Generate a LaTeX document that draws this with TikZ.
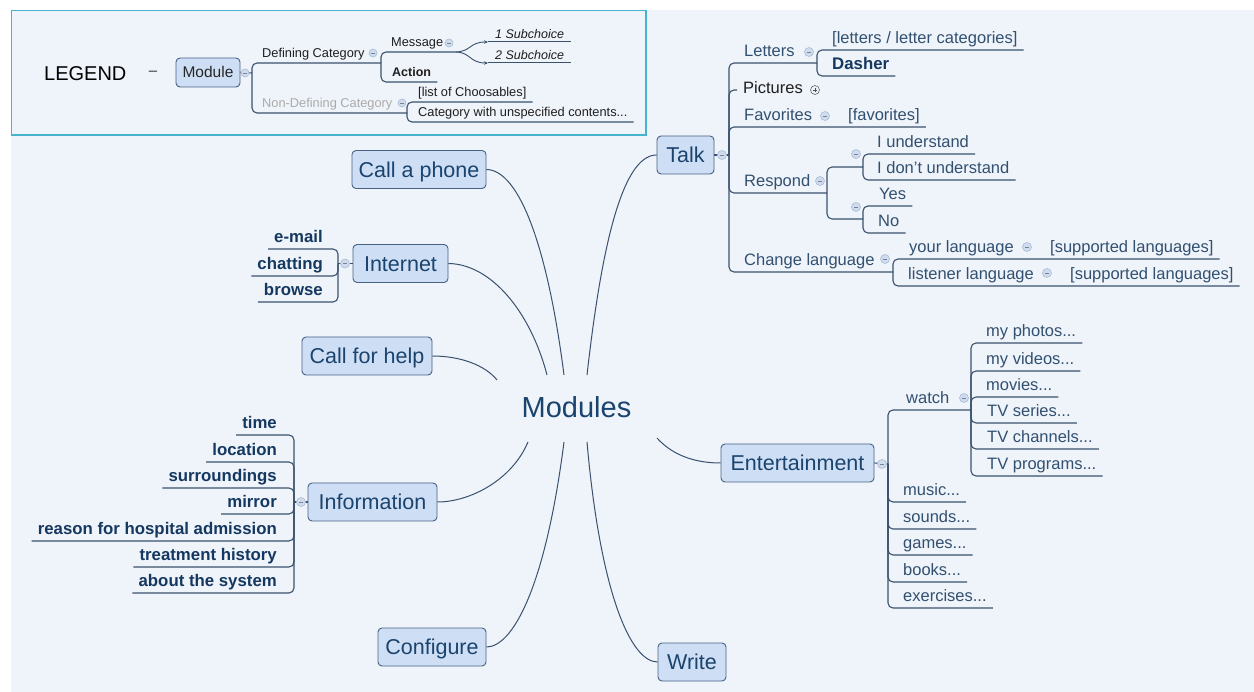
\documentclass[tikz,border=0pt]{standalone}
\usepackage{fontspec}
\setmainfont{Liberation Sans}
\usetikzlibrary{arrows.meta}

\definecolor{canvas}{RGB}{239,243,250}
\definecolor{legendframe}{RGB}{70,180,206}
\definecolor{boxfill}{RGB}{206,222,245}
\definecolor{boxdraw}{RGB}{72,98,132}
\definecolor{topictext}{RGB}{26,68,110}
\definecolor{subtext}{RGB}{50,80,112}
\definecolor{boldtext}{RGB}{20,56,96}
\definecolor{linkcol}{RGB}{58,82,110}
\definecolor{mkfill}{RGB}{208,220,238}
\definecolor{mkdraw}{RGB}{168,188,214}

\tikzset{
  branch/.style={draw=linkcol, line width=1.1pt, rounded corners=5pt},
  spoke/.style={draw=linkcol, line width=1pt},
  maintopic/.style={draw=boxdraw, fill=boxfill, rounded corners=4pt, line width=0.9pt,
    text=topictext, font=\fontsize{21.5}{24}\selectfont, inner xsep=2pt, inner ysep=0pt,
    minimum height=38pt, text height=15.4pt, text depth=0pt},
  subtopic/.style={text=subtext, font=\fontsize{16.5}{19}\selectfont, inner xsep=6pt,
    inner ysep=1.5pt, text height=12pt, text depth=4.5pt},
  boldtopic/.style={subtopic, text=boldtext, font=\fontsize{16.8}{19}\selectfont\bfseries},
  legtext/.style={text=black!88, font=\fontsize{12.8}{15}\selectfont, inner xsep=6pt,
    inner ysep=1pt, text height=9.5pt, text depth=4.5pt},
  fold/.style={circle, minimum size=9pt, inner sep=0pt, fill=mkfill, draw=mkdraw, line width=0.6pt,
    path picture={\draw[draw=mkdraw!70!black, line width=0.8pt]
      ([xshift=-2.4pt]path picture bounding box.center) -- ([xshift=2.4pt]path picture bounding box.center);}},
  unfold/.style={circle, minimum size=9pt, inner sep=0pt, fill=white!60!mkfill, draw=black!60, line width=0.6pt,
    path picture={\draw[black!70, line width=0.8pt]
      ([xshift=-2.4pt]path picture bounding box.center) -- ([xshift=2.4pt]path picture bounding box.center)
      ([yshift=-2.4pt]path picture bounding box.center) -- ([yshift=2.4pt]path picture bounding box.center);}},
  subarrow/.style={spoke, line width=0.9pt, -{Stealth[length=4pt,width=3.5pt]}},
}

\begin{document}
\begin{tikzpicture}[x=1pt, y=-1pt]
\useasboundingbox (0,0) rectangle (1254,692);
\fill[white] (0,0) rectangle (1254,692);
\fill[canvas] (11,10) rectangle (1254,692);

% ---------- legend ----------
\draw[legendframe, line width=1.3pt] (11.6,10.6) rectangle (646,135);
\node[anchor=west, inner sep=0pt, font=\fontsize{20}{24}\selectfont, text=black] (legend) at (44,74) {LEGEND};
\node[inner sep=0pt, font=\fontsize{15}{18}\selectfont, text=black!80] (legdash) at (153,73) {–};
\node[maintopic, font=\fontsize{15.5}{18}\selectfont, text=black!85, minimum width=64pt,
      minimum height=29pt, text height=11pt] (module) at (208,72.5) {Module};

\coordinate (modJ) at (252,73);
\coordinate (defJ) at (381,63);
\coordinate (msgJ) at (455,52);
\coordinate (ndJ) at (407,113);

\node[legtext, anchor=south west] (defcat) at (256,63) {Defining Category};
\node[legtext, anchor=south west] (message) at (385,52) {Message};
\node[legtext, anchor=south west, font=\fontsize{12.5}{15}\selectfont\bfseries] (action) at (386,82) {Action};
\node[legtext, anchor=south west, inner xsep=7pt, text depth=2.5pt,
      font=\fontsize{12.5}{15}\selectfont\itshape] (subA) at (488,42) {1 Subchoice};
\node[legtext, anchor=south west, inner xsep=7pt, text depth=2.5pt,
      font=\fontsize{12.5}{15}\selectfont\itshape] (subB) at (488,63) {2 Subchoice};
\node[legtext, anchor=south west, text=black!33] (nondef) at (256,113) {Non-Defining Category};
\node[legtext, anchor=south west] (choosables) at (412,102) {[list of Choosables]};
\node[legtext, anchor=south west] (unspec) at (412,122) {Category with unspecified contents...};

\begin{scope}[every path/.append style={line width=1pt}]
\draw[branch] (module.east) -- (modJ);
\draw[branch] (modJ) |- (defJ);
\draw[branch] (modJ) |- (ndJ);
\draw[branch] (defJ) |- (msgJ);
\draw[branch] (defJ) |- (action.south east);
\draw[subarrow] (msgJ) .. controls (471,52) and (469,42) .. (subA.south west);
\draw[subarrow] (msgJ) .. controls (471,52) and (469,63) .. (subB.south west);
\draw[spoke] (subA.south west) -- (subA.south east);
\draw[spoke] (subB.south west) -- (subB.south east);
\draw[branch] (ndJ) |- (choosables.south east);
\draw[branch] (ndJ) |- (unspec.south east);
\end{scope}

\node[fold, minimum size=8pt] (fModule) at (245,73) {};
\node[fold, minimum size=8pt] (fDef) at (373,53) {};
\node[fold, minimum size=8pt] (fMsg) at (449,43) {};
\node[fold, minimum size=8pt] (fNondef) at (402,103) {};

% ---------- central topic and main topics ----------
\node[anchor=base, inner sep=0pt, font=\fontsize{29}{34}\selectfont, text=topictext] (root) at (576.5,418) {Modules};

\node[maintopic, minimum width=134pt] (phone) at (419,169.5) {Call a phone};
\node[maintopic, minimum width=95pt] (internet) at (400.5,263.5) {Internet};
\node[maintopic, minimum width=130pt] (help) at (367,356) {Call for help};
\node[maintopic, minimum width=129pt] (info) at (372.5,502) {Information};
\node[maintopic, minimum width=108pt] (config) at (432,647) {Configure};
\node[maintopic, minimum width=68pt] (write) at (692,662) {Write};
\node[maintopic, minimum width=57pt] (talk) at (685.5,155) {Talk};
\node[maintopic, minimum width=153pt] (ent) at (797.5,463) {Entertainment};

\coordinate (sTalk) at (587,375);
\coordinate (sPhone) at (564,375);
\coordinate (sNet) at (547,375);
\coordinate (sHelp) at (497,380);
\coordinate (sInfo) at (528,442);
\coordinate (sConf) at (564,442);
\coordinate (sWrite) at (587,442);
\coordinate (sEnt) at (657,438);

\draw[spoke] (sTalk) .. controls (600,260) and (620,155) .. (talk.west);
\draw[spoke] (sPhone) .. controls (548,250) and (520,170) .. (phone.east);
\draw[spoke] (sNet) .. controls (530,310) and (490,264) .. (internet.east);
\draw[spoke] (sHelp) .. controls (485,365) and (460,356) .. (help.east);
\draw[spoke] (sInfo) .. controls (512,480) and (470,502) .. (info.east);
\draw[spoke] (sConf) .. controls (545,590) and (512,647) .. (config.east);
\draw[spoke] (sWrite) .. controls (600,590) and (630,662) .. (write.west);
\draw[spoke] (sEnt) .. controls (675,458) and (700,463) .. (ent.west);

% ---------- Talk ----------
\coordinate (talkJ) at (729,155);
\coordinate (lettersJ) at (817,63);
\coordinate (respondJ) at (827,193);
\coordinate (understandJ) at (863,167);
\coordinate (yesnoJ) at (863,219);
\coordinate (langJ) at (893,272);

\node[subtopic, anchor=south west] (letters) at (738,63) {Letters};
\node[subtopic, anchor=south west] (lettercats) at (826,50) {[letters / letter categories]};
\node[boldtopic, anchor=south west] (dasher) at (826,76) {Dasher};
\node[subtopic, anchor=west, text=black!88] (pictures) at (737,90) {Pictures};
\node[subtopic, anchor=south west] (favorites) at (738,127) {Favorites};
\node[subtopic, anchor=south west] (favlist) at (842,127) {[favorites]};
\node[subtopic, anchor=south west] (respond) at (738,193) {Respond};
\node[subtopic, anchor=south west] (understand) at (871,154) {I understand};
\node[subtopic, anchor=south west] (dontunderstand) at (871,180) {I don't understand};
\node[subtopic, anchor=south west] (yes) at (873,206) {Yes};
\node[subtopic, anchor=south west] (no) at (872,233) {No};
\node[subtopic, anchor=south west] (changelang) at (738,272) {Change language};
\node[subtopic, anchor=south west] (yourlang) at (903,259) {your language};
\node[subtopic, anchor=south west] (yoursupported) at (1044,259) {[supported languages]};
\node[subtopic, anchor=south west] (listenerlang) at (902,286) {listener language};
\node[subtopic, anchor=south west] (listenersupported) at (1064,286) {[supported languages]};

\draw[branch] (talk.east) -- (talkJ);
\draw[branch] (talkJ) |- (lettersJ);
\draw[branch] (lettersJ) |- (lettercats.south east);
\draw[branch] (lettersJ) |- (dasher.south east);
\draw[branch] (talkJ) |- (pictures.west);
\draw[branch] (talkJ) |- (favlist.south east);
\draw[branch] (talkJ) |- (respondJ);
\draw[branch] (respondJ) |- (understandJ);
\draw[branch] (understandJ) |- (understand.south east);
\draw[branch] (understandJ) |- (dontunderstand.south east);
\draw[branch] (respondJ) |- (yesnoJ);
\draw[branch] (yesnoJ) |- (yes.south east);
\draw[branch] (yesnoJ) |- (no.south east);
\draw[branch] (talkJ) |- (langJ);
\draw[branch] (langJ) |- (yoursupported.south east);
\draw[branch] (langJ) |- (listenersupported.south east);

\node[fold] (fTalk) at (722,155) {};
\node[fold] (fLetters) at (809,52) {};
\node[unfold] (fPictures) at (815,90) {};
\node[fold] (fFavorites) at (825,116) {};
\node[fold] (fRespond) at (820,181) {};
\node[fold] (fUnderstand) at (856,154) {};
\node[fold] (fYesNo) at (856,207) {};
\node[fold] (fChangeLang) at (885,259) {};
\node[fold] (fYourLang) at (1027,247) {};
\node[fold] (fListenerLang) at (1047,273) {};

% ---------- Entertainment ----------
\coordinate (entJ) at (888,464);
\coordinate (watchJ) at (971,410);

\node[subtopic, anchor=south west] (watch) at (900,410) {watch};
\node[subtopic, anchor=south west] (photos) at (980,343) {my photos...};
\node[subtopic, anchor=south west] (videos) at (980,371) {my videos...};
\node[subtopic, anchor=south west] (movies) at (980,397) {movies...};
\node[subtopic, anchor=south west] (series) at (981,423) {TV series...};
\node[subtopic, anchor=south west] (channels) at (981,449) {TV channels...};
\node[subtopic, anchor=south west] (programs) at (981,476) {TV programs...};
\node[subtopic, anchor=south west] (music) at (897,502) {music...};
\node[subtopic, anchor=south west] (sounds) at (897,529) {sounds...};
\node[subtopic, anchor=south west] (games) at (897,555) {games...};
\node[subtopic, anchor=south west] (books) at (897,582) {books...};
\node[subtopic, anchor=south west] (exercises) at (897,608) {exercises...};

\draw[branch] (ent.east) -- (entJ);
\draw[branch] (entJ) |- (watchJ);
\draw[branch] (watchJ) |- (photos.south east);
\draw[branch] (watchJ) |- (videos.south east);
\draw[branch] (watchJ) |- (movies.south east);
\draw[branch] (watchJ) |- (series.south east);
\draw[branch] (watchJ) |- (channels.south east);
\draw[branch] (watchJ) |- (programs.south east);
\draw[branch] (entJ) |- (music.south east);
\draw[branch] (entJ) |- (sounds.south east);
\draw[branch] (entJ) |- (games.south east);
\draw[branch] (entJ) |- (books.south east);
\draw[branch] (entJ) |- (exercises.south east);

\node[fold] (fEnt) at (882,464) {};
\node[fold] (fWatch) at (964,398) {};

% ---------- Information ----------
\coordinate (infoJ) at (294,502);
\node[boldtopic, anchor=south east] (time) at (283,435) {time};
\node[boldtopic, anchor=south east] (location) at (283,462) {location};
\node[boldtopic, anchor=south east] (surroundings) at (283,488) {surroundings};
\node[boldtopic, anchor=south east] (mirror) at (283,514) {mirror};
\node[boldtopic, anchor=south east] (reason) at (283,541) {reason for hospital admission};
\node[boldtopic, anchor=south east] (treatment) at (283,567) {treatment history};
\node[boldtopic, anchor=south east] (about) at (283,593) {about the system};

\draw[branch] (info.west) -- (infoJ);
\draw[branch] (infoJ) |- (time.south west);
\draw[branch] (infoJ) |- (location.south west);
\draw[branch] (infoJ) |- (surroundings.south west);
\draw[branch] (infoJ) |- (mirror.south west);
\draw[branch] (infoJ) |- (reason.south west);
\draw[branch] (infoJ) |- (treatment.south west);
\draw[branch] (infoJ) |- (about.south west);
\node[fold] (fInfo) at (301,502) {};

% ---------- Internet ----------
\coordinate (netJ) at (338,263.5);
\node[boldtopic, anchor=south east] (email) at (329,249) {e-mail};
\node[boldtopic, anchor=south east] (chatting) at (329,276) {chatting};
\node[boldtopic, anchor=south east] (browse) at (329,302) {browse};

\draw[branch] (internet.west) -- (netJ);
\draw[branch] (netJ) |- (email.south west);
\draw[branch] (netJ) |- (chatting.south west);
\draw[branch] (netJ) |- (browse.south west);
\node[fold] (fNet) at (345,263.5) {};
\end{tikzpicture}
\end{document}
